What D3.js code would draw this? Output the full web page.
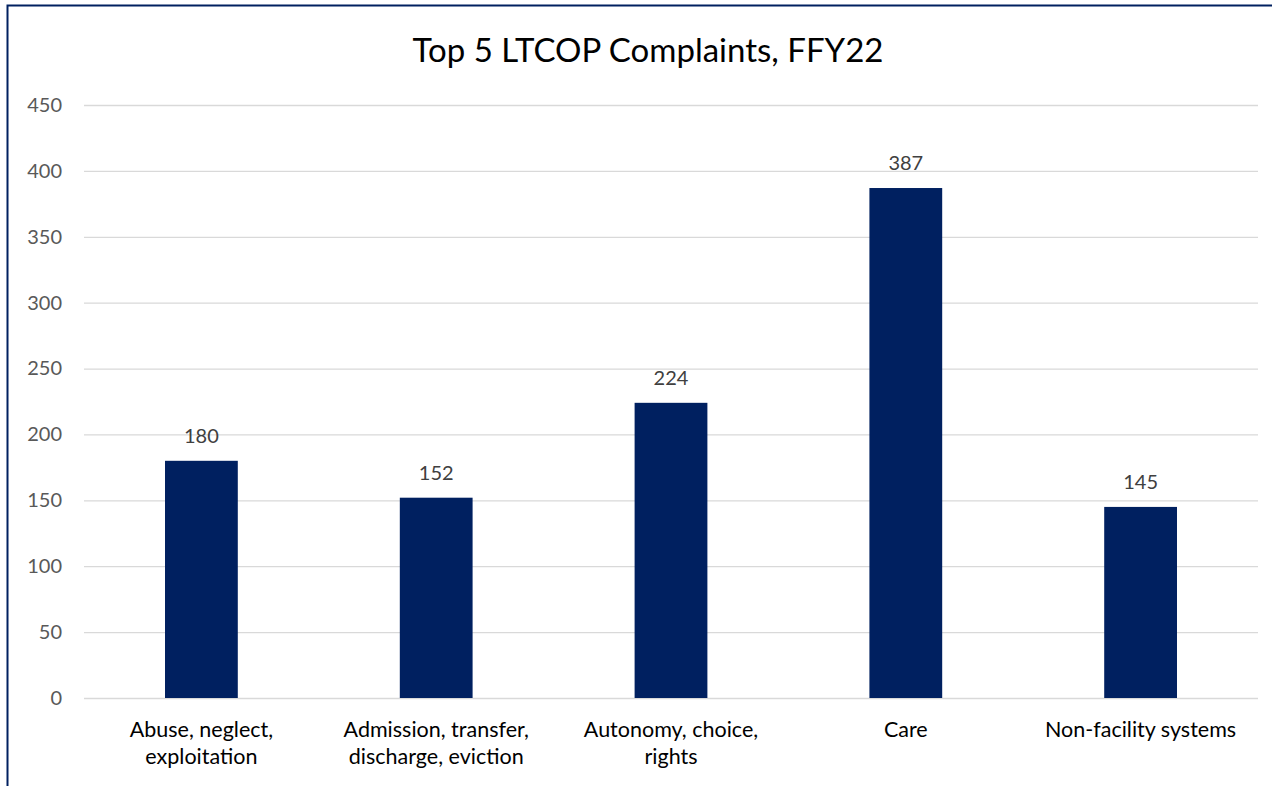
<!DOCTYPE html>
<html>
<head>
<meta charset="utf-8">
<script src="https://cdn.jsdelivr.net/npm/d3@7"></script>
<style>
  html, body { margin: 0; padding: 0; background: #fff; }
  svg { display: block; font-family: Lato, "Open Sans", sans-serif; }
</style>
</head>
<body>
<div id="chart"></div>
<script>
// chart data
const categories = ['Abuse, neglect, exploitation', 'Admission, transfer, discharge, eviction',
  'Autonomy, choice, rights', 'Care', 'Non-facility systems'];
const categoryLines = [
  ['Abuse, neglect,', 'exploitation'],
  ['Admission, transfer,', 'discharge, eviction'],
  ['Autonomy, choice,', 'rights'],
  ['Care'],
  ['Non-facility systems']
];
const complaints = [180, 152, 224, 387, 145];
const yTicks = [0, 50, 100, 150, 200, 250, 300, 350, 400, 450];
const title = 'Top 5 LTCOP Complaints, FFY22';

const width = 1272, height = 786;
const margin = { top: 105, right: 14, bottom: 88, left: 84 };
const innerW = width - margin.left - margin.right;
const innerH = height - margin.top - margin.bottom;
const navy = '#002060';

const svg = d3.select('#chart').append('svg')
  .attr('width', width)
  .attr('height', height);

// outer frame (only left and top edges are visible in the crop)
svg.append('path')
  .attr('d', `M7.5,${height} L7.5,5.5 L${width},5.5`)
  .attr('fill', 'none')
  .attr('stroke', navy)
  .attr('stroke-width', 2);

svg.append('text')
  .attr('x', 648)
  .attr('y', 62)
  .attr('text-anchor', 'middle')
  .attr('font-size', 33)
  .attr('fill', '#000')
  .text(title);

const g = svg.append('g')
  .attr('transform', `translate(${margin.left},${margin.top})`);

const x = d3.scaleBand()
  .domain(categories)
  .range([0, innerW])
  .paddingInner(0.69)
  .paddingOuter(0.345);

const y = d3.scaleLinear()
  .domain([0, 450])
  .range([innerH, 0]);

// gridlines + y labels
const yAxis = g.append('g')
  .call(d3.axisLeft(y).tickValues(yTicks).tickSize(-innerW).tickPadding(22));
yAxis.select('.domain').remove();
yAxis.selectAll('.tick line').attr('stroke', '#d9d9d9').attr('stroke-width', 1.3);
yAxis.selectAll('.tick text')
  .attr('fill', '#595959')
  .attr('font-size', 20)
  .attr('font-family', 'Lato, "Open Sans", sans-serif');

// bars
g.selectAll('.bar')
  .data(complaints)
  .enter().append('rect')
  .attr('class', 'bar')
  .attr('x', (d, i) => x(categories[i]))
  .attr('y', d => y(d))
  .attr('width', x.bandwidth())
  .attr('height', d => innerH - y(d))
  .attr('fill', navy);

// data labels
g.selectAll('.value')
  .data(complaints)
  .enter().append('text')
  .attr('class', 'value')
  .attr('x', (d, i) => x(categories[i]) + x.bandwidth() / 2)
  .attr('y', d => y(d) - 18)
  .attr('text-anchor', 'middle')
  .attr('font-size', 20)
  .attr('fill', '#404040')
  .text(d => d);

// category labels
const xLabels = g.selectAll('.cat')
  .data(categories)
  .enter().append('text')
  .attr('class', 'cat')
  .attr('text-anchor', 'middle')
  .attr('font-size', 21.5)
  .attr('fill', '#000')
  .attr('transform', d => `translate(${x(d) + x.bandwidth() / 2},${innerH + 39})`);

xLabels.selectAll('tspan')
  .data((d, i) => categoryLines[i])
  .enter().append('tspan')
  .attr('x', 0)
  .attr('dy', (d, i) => i === 0 ? 0 : 27)
  .text(d => d);
</script>
</body>
</html>
